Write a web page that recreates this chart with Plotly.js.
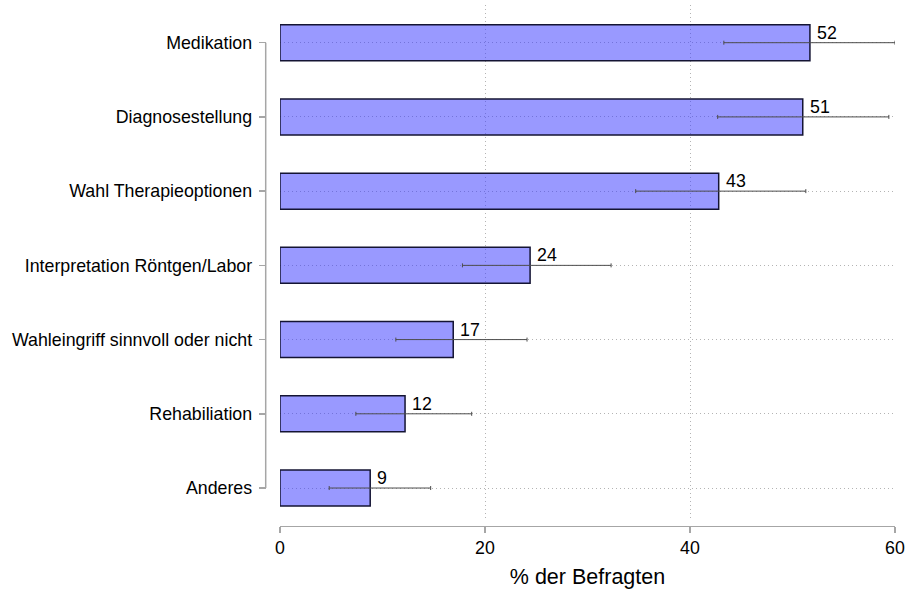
<!DOCTYPE html>
<html>
<head>
<meta charset="utf-8">
<script src="https://cdn.plot.ly/plotly-3.0.1.min.js"></script>
<style>html,body{margin:0;padding:0;background:#fff;}#chart{width:905px;height:591px;}</style>
</head>
<body>
<div id="chart"></div>
<script>
var categories = ["Medikation", "Diagnosestellung", "Wahl Therapieoptionen", "Interpretation Röntgen/Labor", "Wahleingriff sinnvoll oder nicht", "Rehabiliation", "Anderes"];
var values = [51.7, 51.0, 42.8, 24.4, 16.9, 12.2, 8.8];
var ciLow = [43.3, 42.7, 34.7, 17.8, 11.3, 7.4, 4.8];
var ciHigh = [60.0, 59.4, 51.3, 32.3, 24.1, 18.7, 14.7];
var xTicks = [0, 20, 40, 60];

var W = 905, H = 591;
var font = "Liberation Sans, Arial, sans-serif";
var axisGrey = "#a6a6a6";

var errPlus = values.map(function(v, i){ return ciHigh[i] - v; });
var errMinus = values.map(function(v, i){ return v - ciLow[i]; });

var trace = {
  type: "bar",
  orientation: "h",
  x: values,
  y: categories,
  width: 0.485,
  marker: { color: "rgba(51,51,255,0.5)", line: { color: "#141433", width: 1.5 } },
  error_x: { type: "data", array: errPlus, arrayminus: errMinus, symmetric: false,
             color: "#4d4d4d", thickness: 1, width: 2 },
  hoverinfo: "none"
};

var annotations = values.map(function(v, i){
  return { x: v, y: categories[i], xref: "x", yref: "y", text: String(Math.round(v)),
           showarrow: false, xanchor: "left", yanchor: "middle", xshift: 5, yshift: 10,
           font: { family: font, size: 17.8, color: "#000" } };
});

var layout = {
  width: W, height: H,
  margin: { l: 0, r: 0, t: 0, b: 0, pad: 0 },
  paper_bgcolor: "#fff", plot_bgcolor: "rgba(0,0,0,0)",
  showlegend: false,
  font: { family: font, size: 17.8, color: "#000" },
  xaxis: {
    domain: [280 / W, 895 / W],
    range: [0, 60],
    anchor: "free",
    position: (H - 525.5) / H,
    tickvals: xTicks,
    ticktext: xTicks.map(String),
    ticks: "outside", ticklen: 6, tickwidth: 1.5, tickcolor: axisGrey,
    showline: true, linecolor: axisGrey, linewidth: 1.5,
    showgrid: true, gridcolor: "#b4b4b4", griddash: "1px,3px", gridwidth: 1,
    zeroline: false,
    tickfont: { family: font, size: 17.8, color: "#000" },
    title: { text: "% der Befragten", font: { family: font, size: 21.5, color: "#000" }, standoff: 11 },
    fixedrange: true
  },
  yaxis: {
    domain: [(H - 518) / H, (H - 5) / H],
    type: "category",
    categoryorder: "array", categoryarray: categories,
    range: [6.404, -0.508],
    anchor: "free",
    position: 265.7 / W,
    ticks: "outside", ticklen: 7, tickwidth: 1.5, tickcolor: axisGrey,
    showline: false,
    showgrid: true, gridcolor: "#b4b4b4", griddash: "1px,3px", gridwidth: 1,
    zeroline: false,
    ticklabelstandoff: 3,
    tickfont: { family: font, size: 17.8, color: "#000" },
    fixedrange: true
  },
  shapes: [{
    type: "line", xref: "paper", yref: "y",
    x0: 265.7 / W, x1: 265.7 / W,
    y0: categories[0], y1: categories[categories.length - 1],
    line: { color: axisGrey, width: 1.5 }
  }],
  annotations: annotations
};

Plotly.newPlot("chart", [trace], layout, { displayModeBar: false, staticPlot: true });
</script>
</body>
</html>
